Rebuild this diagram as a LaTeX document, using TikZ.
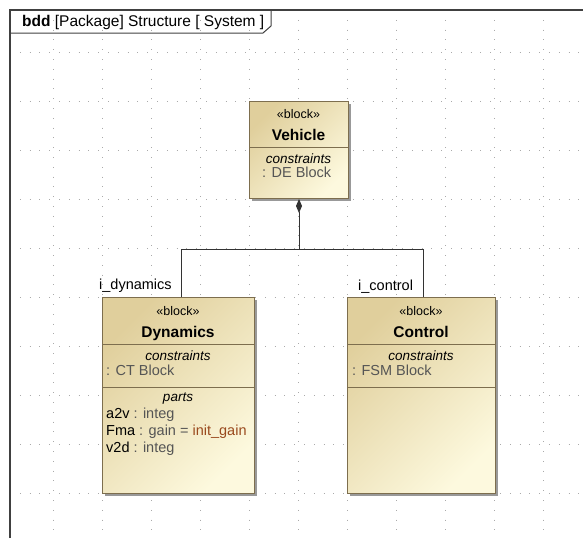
\documentclass[tikz,border=0pt]{standalone}
\usepackage{fontspec}
\setmainfont{Liberation Sans}
\usepackage{tikz}
\usetikzlibrary{arrows.meta,shadows,positioning}
\definecolor{blockedge}{HTML}{7D6E4E}
\definecolor{blocktop}{HTML}{E0CF9C}
\definecolor{blockbot}{HTML}{FDF9DE}
\definecolor{typegray}{HTML}{555555}
\definecolor{initbrown}{HTML}{9A4A1E}
\definecolor{griddot}{HTML}{AAAAAA}

\begin{document}
\begin{tikzpicture}[x=1pt,y=-1pt,
        blockbox/.style={draw=blockedge,line width=1pt,inner sep=0pt,anchor=north west,
            top color=blocktop,bottom color=blockbot,shading angle=45,
            drop shadow={shadow xshift=2.5pt,shadow yshift=-2.5pt,fill=black!40,opacity=1}},
        sterotext/.style={anchor=base,inner sep=0pt,font=\fontsize{12.5}{14}\selectfont},
        nametext/.style={anchor=base,inner sep=0pt,font=\fontsize{15.5}{17}\selectfont\bfseries},
        comptext/.style={anchor=base,inner sep=0pt,font=\fontsize{13.5}{15}\selectfont\itshape},
        entrytext/.style={anchor=base west,inner sep=0pt,font=\fontsize{14.5}{17}\selectfont},
        divline/.style={draw=blockedge,line width=0.8pt},
        gridline/.style={griddot,line width=0.8pt,dash pattern=on 0.8pt off 9pt},
        wire/.style={draw=black!80,line width=0.9pt}]
    \useasboundingbox (0,0) rectangle (583,538);
    % dotted grid
    \foreach \gx in {53,102,...,543}
        \draw[gridline] (\gx,10) -- (\gx,538);
    \foreach \gy in {52,101,...,493}
        \draw[gridline] (10,\gy) -- (583,\gy);
    % diagram frame and its tab
    \draw[black!75,line width=1.2pt] (10,538) -- (10,10) -- (583,10);
    \draw[black!75,line width=1pt] (10,33) -- (263,33) -- (271,26) -- (271,10);
    \node[anchor=base west,inner sep=0pt,font=\fontsize{15.5}{17}\selectfont] (title) at (22,27)
        {\textbf{bdd} [Package] Structure [ System ]};

    % blocks
    \node[blockbox,minimum width=99pt,minimum height=97pt] (vehicle) at (249,101) {};
    \node[blockbox,minimum width=152pt,minimum height=196pt] (dynamics) at (102,297) {};
    \node[blockbox,minimum width=148pt,minimum height=196pt] (control) at (347,297) {};

    \draw[divline] (249,147) -- (348,147);
    \draw[divline] (102,344) -- (254,344);
    \draw[divline] (102,387) -- (254,387);
    \draw[divline] (347,344) -- (495,344);
    \draw[divline] (347,387) -- (495,387);

    % Vehicle
    \node[sterotext] (vehstereo) at (298.5,118) {«block»};
    \node[nametext] (vehname) at (298.5,140) {Vehicle};
    \node[comptext] (vehcons) at (298.5,163) {constraints};
    \node[entrytext,typegray] (vehde) at (262,177) {: DE Block};

    % Dynamics
    \node[sterotext] (dynstereo) at (178,315) {«block»};
    \node[nametext] (dynname) at (178,337) {Dynamics};
    \node[comptext] (dyncons) at (178,360) {constraints};
    \node[entrytext,typegray] (dynct) at (106,375) {: CT Block};
    \node[comptext] (dynparts) at (178,401) {parts};
    \node[entrytext] (dyna2v) at (106,418) {a2v \textcolor{typegray}{: integ}};
    \node[entrytext] (dynfma) at (106,435) {Fma \textcolor{typegray}{: gain =} \textcolor{initbrown}{init\_gain}};
    \node[entrytext] (dynv2d) at (106,452) {v2d \textcolor{typegray}{: integ}};

    % Control
    \node[sterotext] (ctlstereo) at (421,315) {«block»};
    \node[nametext] (ctlname) at (421,337) {Control};
    \node[comptext] (ctlcons) at (421,360) {constraints};
    \node[entrytext,typegray] (ctlfsm) at (352,375) {: FSM Block};

    % composition
    \draw[wire,{Diamond[length=14pt,width=6pt]}-] (vehicle.south) -- ++(0,50) coordinate (fork);
    \draw[wire] (fork) -| ([xshift=3pt]dynamics.north);
    \draw[wire] (fork) -| ([xshift=2pt]control.north);
    \node[entrytext] (dynrole) at (99,289) {i\_dynamics};
    \node[entrytext] (ctlrole) at (358,290) {i\_control};
\end{tikzpicture}
\end{document}
